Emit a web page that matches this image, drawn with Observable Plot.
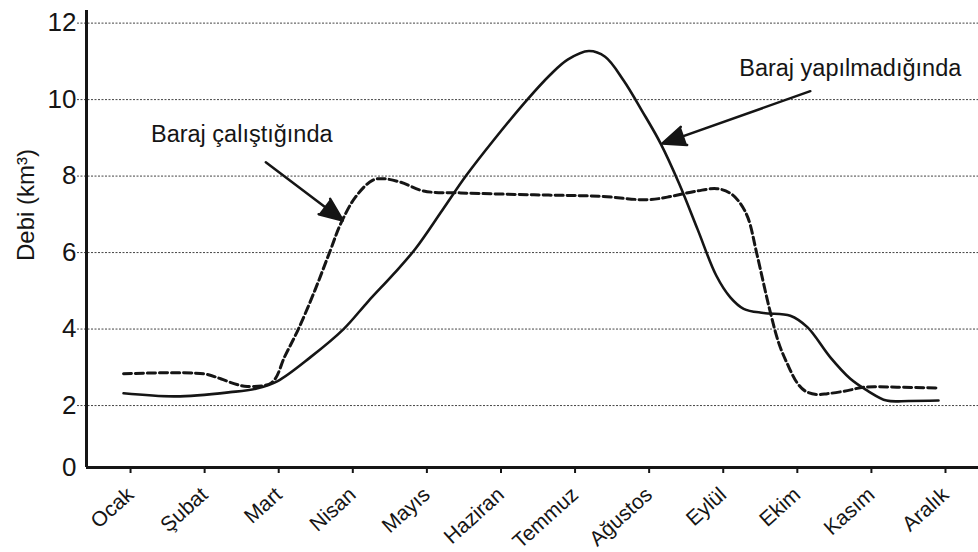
<!DOCTYPE html>
<html>
<head>
<meta charset="utf-8">
<script src="https://cdn.jsdelivr.net/npm/d3@7"></script>
<script src="https://cdn.jsdelivr.net/npm/@observablehq/plot@0.6"></script>
<style>
  html, body { margin: 0; padding: 0; background: #fff; }
  #chart { width: 978px; height: 552px; }
</style>
</head>
<body>
<div id="chart"></div>
<script>
// Month tick labels
const months = ["Ocak","Şubat","Mart","Nisan","Mayıs","Haziran","Temmuz","Ağustos","Eylül","Ekim","Kasım","Aralık"];
const monthTicks = [0,1,2,3,4,5,6,7,8,9,10,11];
const yTicks = [2,4,6,8,10,12];
// the schematic's axis floor, labelled "0" (the source compresses the 0–2 band)
const yFloor = 0.38;
const yFloorLabel = "0";

// "Baraj yapılmadığında" (solid) – month position (0 = Ocak) and discharge
const naturalMonth = [0, 0.7, 1.44, 1.81, 2.08, 2.52, 2.97, 3.3, 3.65, 3.94, 4.3, 4.62, 5.0, 5.45, 5.76, 6.0, 6.28, 6.5, 6.75, 7.0, 7.25, 7.5, 7.75, 8.0, 8.19, 8.37, 8.64, 9.0, 9.23, 9.54, 9.81, 10.04, 10.3, 10.6, 11.0];
const naturalFlow  = [2.32, 2.24, 2.35, 2.45, 2.64, 3.26, 4.0, 4.72, 5.45, 6.1, 7.1, 8.0, 8.95, 10.0, 10.65, 11.05, 11.27, 11.12, 10.5, 9.7, 8.85, 7.8, 6.6, 5.4, 4.83, 4.53, 4.42, 4.35, 4.05, 3.26, 2.70, 2.39, 2.13, 2.12, 2.13];

// "Baraj çalıştığında" (dashed)
const damMonth = [0, 1.08, 1.31, 1.53, 1.67, 2.0, 2.18, 2.36, 2.58, 2.79, 2.93, 3.13, 3.36, 3.51, 3.74, 4.05, 4.55, 5.54, 6.44, 7.07, 7.34, 7.74, 8.01, 8.19, 8.32, 8.43, 8.55, 8.73, 8.85, 8.96, 9.09, 9.2, 9.35, 9.5, 9.77, 9.99, 10.44, 11.0];
const damFlow  = [2.83, 2.83, 2.70, 2.55, 2.50, 2.60, 3.3, 4.0, 5.0, 6.05, 6.75, 7.45, 7.89, 7.93, 7.84, 7.61, 7.56, 7.51, 7.47, 7.38, 7.45, 7.61, 7.67, 7.55, 7.3, 6.9, 5.95, 4.44, 3.6, 3.09, 2.6, 2.38, 2.29, 2.31, 2.39, 2.48, 2.48, 2.46];

// Annotations
const labelText  = ["Baraj çalıştığında", "Baraj yapılmadığında"];
const labelMonth = [0.37, 8.31];
const labelFlow  = [9.09, 10.82];
const arrowX1 = [1.92, 9.27];
const arrowY1 = [8.36, 10.22];
const arrowX2 = [2.96, 7.27];
const arrowY2 = [6.84, 8.85];

const natural = naturalMonth.map((m, i) => ({m, v: naturalFlow[i]}));
const dam = damMonth.map((m, i) => ({m, v: damFlow[i]}));
const labels = labelText.map((t, i) => ({t, m: labelMonth[i], v: labelFlow[i]}));
const arrows = arrowX1.map((x1, i) => ({x1, y1: arrowY1[i], x2: arrowX2[i], y2: arrowY2[i]}));

const ink = "#151515";

const chart = Plot.plot({
  width: 978,
  height: 552,
  marginLeft: 86,
  marginRight: 0,
  marginTop: 10,
  marginBottom: 85,
  style: {fontFamily: "'Liberation Sans', Arial, sans-serif", color: ink, background: "#fff"},
  x: {domain: [-0.5, 11.54]},
  y: {domain: [yFloor, 12.33]},
  marks: [
    Plot.ruleY(yTicks, {stroke: "#444", strokeWidth: 1, strokeDasharray: "2,1.5", insetLeft: -9}),
    Plot.axisY({ticks: yTicks, tickSize: 0, tickPadding: 10, fontSize: 26, label: null}),
    Plot.axisY({ticks: [yFloor], tickFormat: () => yFloorLabel, tickSize: 0, tickPadding: 10, fontSize: 26, label: null}),
    Plot.axisX({ticks: monthTicks, tickFormat: i => months[i], tickSize: 6, strokeWidth: 2,
      tickRotate: -42, tickPadding: 18, dx: 7, fontSize: 21, label: null}),
    Plot.ruleY([yFloor], {stroke: ink, strokeWidth: 3}),
    Plot.ruleX([-0.5], {stroke: ink, strokeWidth: 3}),
    Plot.line(natural, {x: "m", y: "v", curve: "catmull-rom", stroke: ink, strokeWidth: 2.6}),
    Plot.line(dam, {x: "m", y: "v", curve: "catmull-rom", stroke: ink, strokeWidth: 3, strokeDasharray: "8,4"}),
    Plot.arrow(arrows, {x1: "x1", y1: "y1", x2: "x2", y2: "y2", stroke: ink, fill: ink, strokeWidth: 2.5,
      headLength: 15, headAngle: 45}),
    Plot.text(labels, {x: "m", y: "v", text: "t", textAnchor: "start", lineAnchor: "middle", fontSize: 23.5, fill: ink}),
    Plot.text(["Debi (km³)"], {frameAnchor: "left", rotate: -90, dx: -60, dy: -34, fontSize: 24, textAnchor: "middle", fill: ink})
  ]
});
document.getElementById("chart").appendChild(chart);
</script>
</body>
</html>
